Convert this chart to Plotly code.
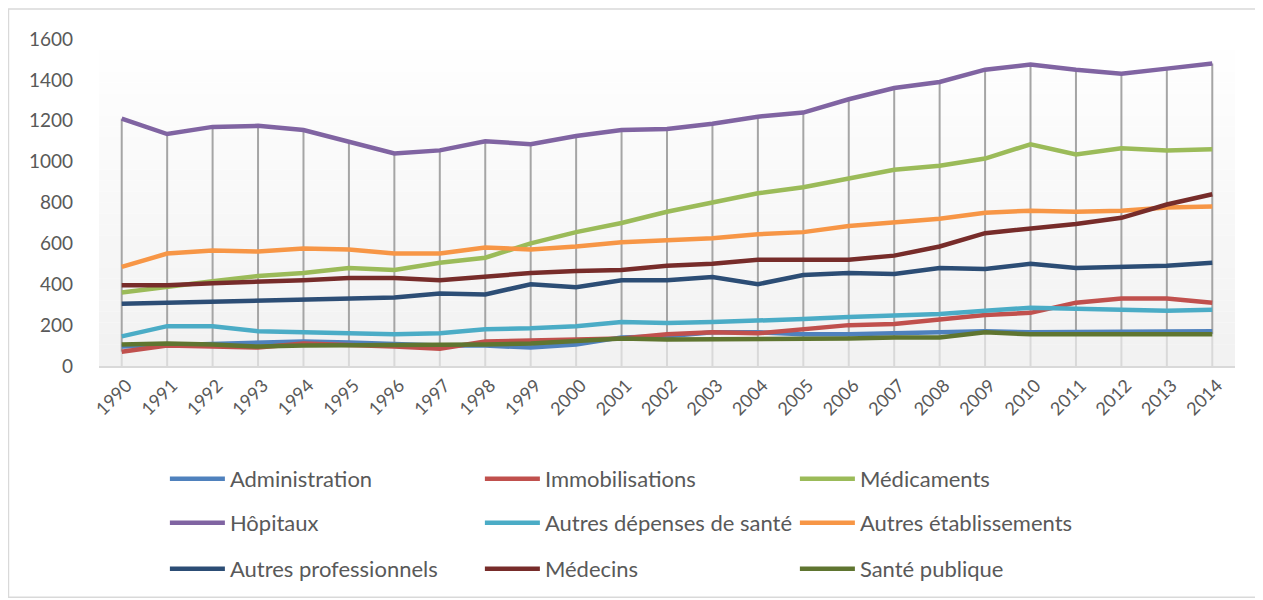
import plotly.graph_objects as go

# Dépenses de santé par poste, 1990-2014
years = [str(y) for y in range(1990, 2015)]

administration = [95, 100, 105, 115, 120, 115, 105, 100, 100, 90, 105, 140, 145, 165, 165,
                  155, 155, 160, 165, 170, 165, 165, 165, 170, 170]
immobilisations = [70, 100, 95, 90, 110, 105, 95, 85, 120, 125, 130, 135, 155, 165, 160,
                   180, 200, 205, 225, 250, 260, 310, 330, 330, 310]
medicaments = [360, 390, 415, 440, 455, 480, 470, 505, 530, 600, 655, 700, 755, 800, 845,
               875, 915, 960, 980, 1015, 1085, 1035, 1065, 1055, 1060]
hopitaux = [1210, 1135, 1170, 1175, 1155, 1095, 1040, 1055, 1100, 1085, 1125, 1155, 1160, 1185, 1220,
            1240, 1305, 1360, 1390, 1450, 1475, 1450, 1430, 1455, 1480]
autres_depenses = [145, 195, 195, 170, 165, 160, 155, 160, 180, 185, 195, 215, 210, 215, 220,
                   230, 240, 245, 255, 270, 285, 280, 275, 270, 275]
autres_etab = [485, 550, 565, 560, 575, 570, 550, 550, 580, 570, 585, 605, 615, 625, 645,
               655, 685, 705, 720, 750, 760, 755, 760, 775, 780]
autres_pro = [305, 310, 310, 315, 325, 330, 335, 355, 350, 400, 385, 420, 420, 435, 400,
              445, 455, 450, 480, 475, 500, 480, 485, 490, 505]
medecins = [395, 395, 405, 410, 420, 430, 430, 420, 440, 455, 465, 470, 490, 500, 520,
            520, 520, 540, 585, 650, 670, 695, 725, 790, 840]
sante_publique = [105, 110, 105, 95, 100, 100, 100, 100, 105, 110, 120, 135, 130, 130, 135,
                  135, 135, 140, 140, 165, 155, 155, 155, 155, 155]

series = [
    ("Administration", administration, "#4F81BD", "legend"),
    ("Immobilisations", immobilisations, "#C0504D", "legend"),
    ("Médicaments", medicaments, "#9BBB59", "legend"),
    ("Hôpitaux", hopitaux, "#8064A2", "legend2"),
    ("Autres dépenses de santé", autres_depenses, "#4BACC6", "legend2"),
    ("Autres établissements", autres_etab, "#F79646", "legend2"),
    ("Autres professionnels", autres_pro, "#2C4D75", "legend3"),
    ("Médecins", medecins, "#772C2A", "legend3"),
    ("Santé publique", sante_publique, "#5F7530", "legend3"),
]

fig = go.Figure()

# high-low lines + light drop to the axis
hi_x, hi_y, lo_x, lo_y = [], [], [], []
for i, yr in enumerate(years):
    vals = [s[1][i] for s in series]
    hi_x += [yr, yr, None]
    hi_y += [max(vals), min(vals), None]
    lo_x += [yr, yr, None]
    lo_y += [min(vals), 0, None]

fig.add_trace(go.Scatter(x=lo_x, y=lo_y, mode="lines", line=dict(color="#D9D9D9", width=2),
                         showlegend=False, hoverinfo="skip"))
fig.add_trace(go.Scatter(x=hi_x, y=hi_y, mode="lines", line=dict(color="#A5A5A5", width=2),
                         showlegend=False, hoverinfo="skip"))

for name, vals, color, leg in series:
    fig.add_trace(go.Scatter(x=years, y=vals, mode="lines", name=name,
                             line=dict(color=color, width=4.5), legend=leg))

# plot area gradient
n = 30
for k in range(n):
    g = int(242 + (255 - 242) * (k / (n - 1)))
    fig.add_shape(type="rect", xref="paper", yref="paper",
                  x0=0, x1=1, y0=k / n, y1=(k + 1) / n,
                  fillcolor=f"rgb({g},{g},{g})", line_width=0, layer="below")

# chart border
fig.add_shape(type="rect", xref="paper", yref="paper",
              x0=-0.0797, x1=1.0240, y0=-0.7073, y1=1.0915,
              line=dict(color="#D9D9D9", width=1.5), fillcolor="rgba(0,0,0,0)")

font = dict(family="Lato, Open Sans, sans-serif", size=19, color="#595959")
xfont = dict(family="Lato, Open Sans, sans-serif", size=18, color="#595959")
lfont = dict(family="Lato, Open Sans, sans-serif", size=22, color="#595959")
leg_common = dict(orientation="h", xanchor="left", yanchor="middle", x=0.058,
                  font=lfont, entrywidth=245, itemwidth=55, bgcolor="rgba(0,0,0,0)")

fig.update_layout(
    width=1255, height=592,
    margin=dict(l=91, r=28, t=31, b=233),
    paper_bgcolor="white", plot_bgcolor="white",
    font=font,
    xaxis=dict(type="category", range=[-0.5, 24.5], tickangle=-45, showgrid=False,
               showline=True, linecolor="#D9D9D9", linewidth=2, ticks="", tickfont=xfont,
               ticklabelshift=5),
    yaxis=dict(range=[0, 1600], dtick=200, showgrid=False, zeroline=False, showline=False,
               ticks="", tickfont=font, ticklabelstandoff=25),
    legend=dict(y=-0.3415, **leg_common),
    legend2=dict(y=-0.4756, **leg_common),
    legend3=dict(y=-0.6159, **leg_common),
)

fig.write_html("out.html")
